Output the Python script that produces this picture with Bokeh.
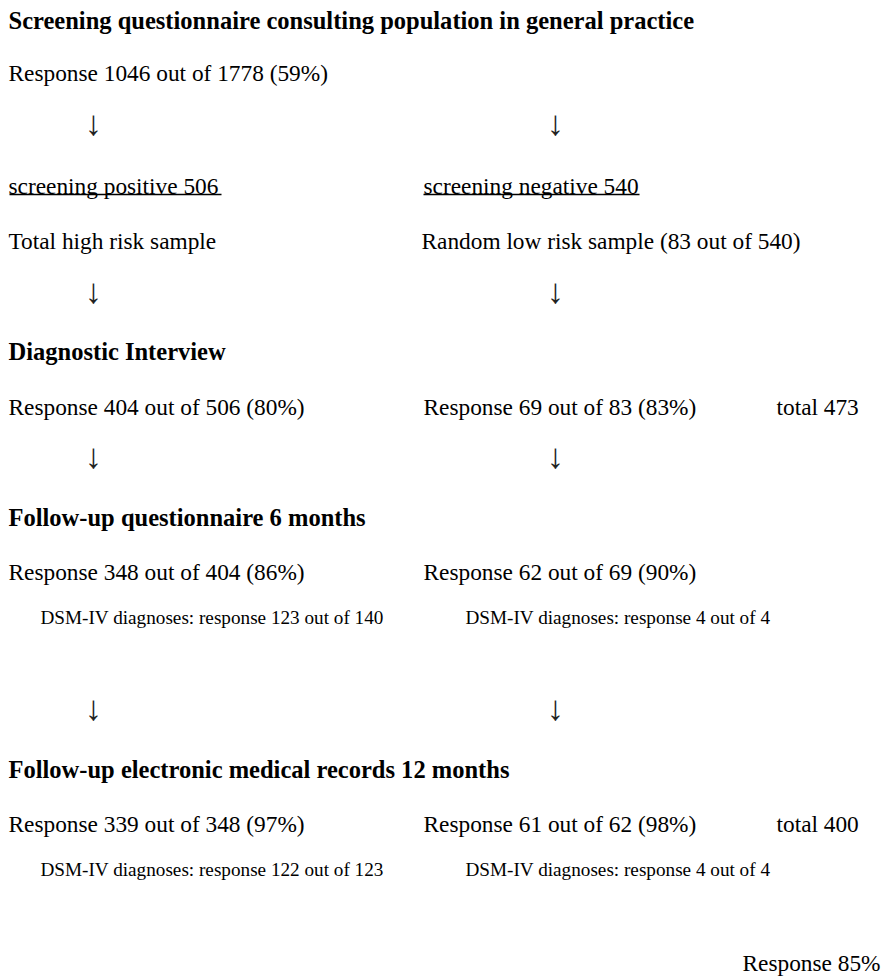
from bokeh.plotting import figure
from bokeh.models import Range1d
from bokeh.core.properties import value
from bokeh.embed import file_html
from bokeh.resources import INLINE

# ---- content ----
headings = [
    "Screening questionnaire consulting population in general practice",
    "Diagnostic Interview",
    "Follow-up questionnaire 6 months",
    "Follow-up electronic medical records 12 months",
]
left_lines = [
    "Response 1046 out of 1778 (59%)",
    "screening positive 506",
    "Total high risk sample",
    "Response 404 out of 506 (80%)",
    "Response 348 out of  404 (86%)",
    "Response 339 out of  348 (97%)",
]
right_lines = [
    "screening negative 540",
    "Random low risk sample (83 out of 540)",
    "Response 69 out of 83 (83%)",
    "Response 62 out of 69 (90%)",
    "Response 61 out of 62 (98%)",
]
totals = ["total 473", "total 400", "Response 85%"]
dsm_left = [
    "DSM-IV diagnoses: response 123 out of 140",
    "DSM-IV diagnoses: response 122 out of 123",
]
dsm_right = [
    "DSM-IV diagnoses: response 4  out of 4",
    "DSM-IV diagnoses: response  4 out of 4",
]
arrow = "\u2193"

# ---- layout (screen px) ----
W, H = 881, 976
head_y = [20, 351, 517, 769]
left_y = [72, 185, 240, 406, 571, 823]
right_y = [185, 240, 406, 571, 823]
right_x = [423, 421, 423, 423, 423]
total_x = [776, 776, 742]
total_y = [406, 823, 962]
dsm_y = [617, 869]
arrow_y = [122, 290, 455, 707]
arrow_x = [93, 555]

p = figure(width=W, height=H, output_backend="svg", toolbar_location=None,
           x_range=Range1d(0, W), y_range=Range1d(H, 0), min_border=0)
p.axis.visible = False
p.grid.visible = False
p.outline_line_color = None
p.background_fill_color = "white"
p.border_fill_color = "white"

font = value("Liberation Serif")
common = dict(text_font=font, text_color="black", text_baseline="middle")

p.text(x=[8] * len(headings), y=head_y, text=headings, text_font_size="18.4pt",
       text_font_style="bold", **common)
p.text(x=[8] * len(left_lines), y=left_y, text=left_lines, text_font_size="17.5pt", **common)
p.text(x=right_x, y=right_y, text=right_lines, text_font_size="17.5pt", **common)
p.text(x=total_x, y=total_y, text=totals, text_font_size="17.5pt", **common)
p.text(x=[40] * len(dsm_left), y=dsm_y, text=dsm_left, text_font_size="14.4pt", **common)
p.text(x=[465] * len(dsm_right), y=dsm_y, text=dsm_right, text_font_size="14.4pt", **common)

ax, ay = [], []
for yy in arrow_y:
    for xx in arrow_x:
        ax.append(xx)
        ay.append(yy)
p.text(x=ax, y=ay, text=[arrow] * len(ax), text_font_size="26pt",
       text_align="center", text_font=font, text_color="#222222", text_baseline="middle")

# underlines
p.segment(x0=[9, 423], y0=[194, 194], x1=[221, 639], y1=[194, 194],
          line_color="black", line_width=1.3)

open("out.html", "w").write(file_html(p, INLINE))
